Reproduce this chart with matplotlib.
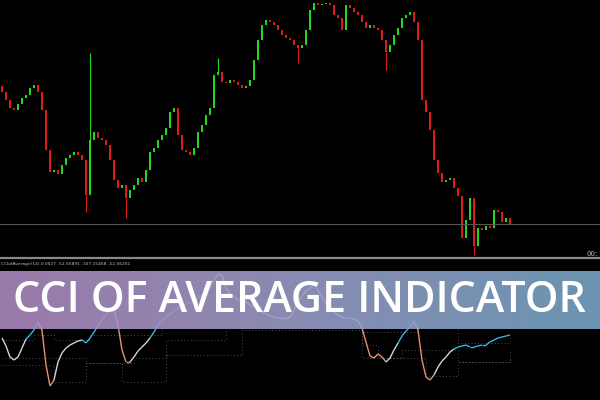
import numpy as np
import matplotlib.pyplot as plt
from matplotlib.collections import LineCollection
from matplotlib.colors import LinearSegmentedColormap

# candle closes (open = previous close), chart units
first_open = 172
closes = [166, 158, 150, 148, 154, 160, 163, 170, 173, 166,
          148, 108, 86, 88, 84, 93, 100, 103, 106, 103,
          98, 63, 118, 126, 120, 118, 113, 98, 78, 70,
          73, 60, 68, 73, 80, 76, 88, 106, 110, 118,
          123, 130, 146, 150, 123, 108, 106, 103, 110, 126,
          133, 143, 150, 183, 186, 176, 175, 178, 176, 173,
          170, 172, 178, 198, 218, 233, 238, 236, 233, 228,
          223, 220, 218, 213, 210, 213, 228, 248, 255, 253,
          254, 255, 253, 243, 240, 228, 253, 250, 246, 243,
          236, 230, 233, 230, 228, 218, 206, 213, 223, 230,
          240, 243, 246, 236, 218, 158, 146, 128, 98, 85,
          76, 78, 80, 70, 62, 20, 38, 60, 12, 30,
          28, 32, 30, 48, 46, 36, 40, 34]
wick_highs = {22: 205, 54: 200}
wick_lows = {21: 46, 31: 40, 74: 195, 96: 188, 118: 3}
last_price = 34

# indicator line and its colour codes (b = blue, w = grey, o = orange)
cci = [48, 16, -28, -40, -28, 8, 44, 60, 80, 112,
       80, -60, -144, -120, -48, -12, 8, 20, 28, 36,
       40, 28, 48, 72, 96, 120, 140, 164, 160, 100,
       0, -48, -48, -28, -4, 12, 28, 48, 72, 100,
       120, 132, 144, 156, 168, 176, 184, 188, 196, 208,
       220, 232, 248, 280, 304, 300, 248, 224, 212, 204,
       196, 192, 180, 172, 164, 152, 144, 136, 132, 128,
       128, 128, 132, 160, 192, 216, 236, 248, 260, 240,
       212, 188, 168, 152, 140, 132, 128, 128, 124, 116,
       88, 32, -24, -32, -16, -28, -48, -32, 0, 28,
       56, 76, 92, 116, 80, -40, -108, -120, -100, -68,
       -44, -28, -8, 4, 12, 16, 20, 12, 12, 16,
       20, 20, 32, 40, 48, 52, 56, 60]
cci_codes = ("b" "wwwwww" "bbb" "w" "ooo" "wwwwwww" "bbbbbbbb" "w" "ooo"
             "wwwww" "bbbbbbbbbbbbbbbb"
             "wwwwwwwwwwwwwwwwwwwwwwwwwwwwwwwwwwwww" "oooooo" "www" "bbbb"
             "w" "oooo" "wwwww" "bbbbbbbbbbbbbb")

# stepped dotted levels
upper_idx = [0, 8, 13, 22, 30, 40, 56, 70, 90, 104, 114, 127]
upper_lvl = [40, 60, 40, 60, 60, 120, 200, 128, 72, 128, 28, 52]
mid_idx = [0, 21, 33, 41, 56, 90, 94, 100, 114, 127]
mid_lvl = [-32, -52, -32, 40, 120, 20, -32, 0, -48, 0]
low_idx = [0, 13, 21, 30, 41, 60, 90, 94, 106, 114, 127]
low_lvl = [-60, -128, -52, -128, -20, 80, -32, -32, -104, -48, -32]

title = "CCI OF AVERAGE INDICATOR"
header = "CCIofAverage(14) 0.0027 -52.56891 -107.15468 -52.56201"

fig = plt.figure(figsize=(6, 4), dpi=100, facecolor="black")

# price chart
ax = fig.add_axes([0, 142 / 400, 1, 258 / 400])
ax.set_facecolor("black")
ax.set_xlim(-0.5, 149.5)
ax.set_ylim(0, 258)
ax.axis("off")

c = np.array(closes, dtype=float)
o = np.r_[first_open, c[:-1]]
idx = np.arange(len(c))
up = c >= o
cols = np.where(up, "#1fd81f", "#e01a1a")
bot = np.minimum(o, c)
hgt = np.maximum(np.abs(c - o), 1.0)
ax.bar(idx, hgt, bottom=bot, width=0.7, color=cols, linewidth=0)
for i, h in wick_highs.items():
    ax.vlines(i, max(o[i], c[i]), h, color=cols[i], lw=0.8)
for i, l in wick_lows.items():
    ax.vlines(i, l, min(o[i], c[i]), color=cols[i], lw=0.8)
ax.axhline(last_price, color="#555555", lw=0.8)

# indicator panel
ax2 = fig.add_axes([0, 0, 1, 141 / 400])
ax2.set_facecolor("black")
ax2.set_xlim(-0.5, 149.5)
ax2.set_ylim(-200, 364)
ax2.axis("off")

for xs, ys in [(upper_idx, upper_lvl), (mid_idx, mid_lvl), (low_idx, low_lvl)]:
    ax2.step(xs, ys, where="post", color="#666666", lw=0.6, ls=(0, (1, 3)))

pts = np.column_stack([np.arange(len(cci)), cci])
segs = np.stack([pts[:-1], pts[1:]], axis=1)
cmap = {"b": "#3ab4e6", "w": "#d4d4d4", "o": "#e8926a"}
lc = LineCollection(segs, colors=[cmap[k] for k in cci_codes[1:]], linewidths=1.0)
ax2.add_collection(lc)

# overlay: separators, labels, banner
ov = fig.add_axes([0, 0, 1, 1])
ov.set_xlim(0, 600)
ov.set_ylim(400, 0)
ov.axis("off")
ov.axhline(257.5, color="#8a8a8a", lw=1.6)
ov.text(1, 264, header, color="#bdbdbd", fontsize=3.2, va="center")
ov.text(598, 254, "00:", color="#bdbdbd", fontsize=5, ha="right", va="center")

grad = LinearSegmentedColormap.from_list("banner", ["#ae88c0", "#9a9cc6", "#77a7c7"])
ov.imshow(np.linspace(0, 1, 256)[None, :], cmap=grad, extent=(0, 600, 329, 271),
          aspect="auto", alpha=0.9, zorder=2)
ov.set_xlim(0, 600)
ov.set_ylim(400, 0)
ov.text(299, 301, title, color="white", fontsize=31, family="Open Sans",
        fontweight="semibold", ha="center", va="center", zorder=3)

fig.savefig("out.png", dpi=100, facecolor="black")
